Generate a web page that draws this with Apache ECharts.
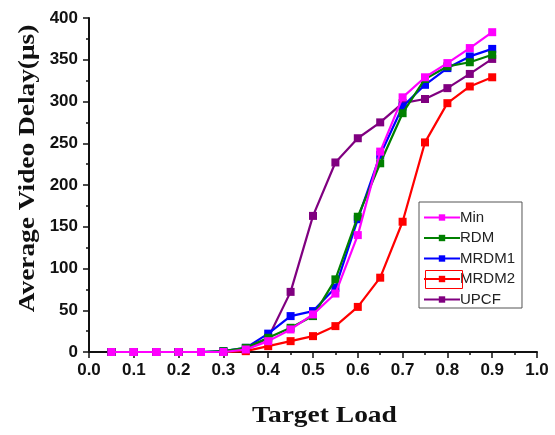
<!DOCTYPE html>
<html>
<head>
<meta charset="utf-8">
<script src="https://cdn.jsdelivr.net/npm/echarts@6/dist/echarts.min.js"></script>
<style>
html,body{margin:0;padding:0;background:#fff;}
#chart{width:555px;height:435px;}
</style>
</head>
<body>
<div id="chart"></div>
<script>
var loads = [0.05,0.1,0.15,0.2,0.25,0.3,0.35,0.4,0.45,0.5,0.55,0.6,0.65,0.7,0.75,0.8,0.85,0.9];
var minDelay   = [0,0,0,0,0,0,3,13,27,45,70,140,240,305,329,346,364,383];
var rdmDelay   = [0,0,0,0,0,1,5,17,29,43,87,162,226,286,327,342,347,356];
var mrdm1Delay = [0,0,0,0,0,1,5,22,43,49,77,159,236,294,320,340,354,363];
var mrdm2Delay = [0,0,0,0,0,0,1,7,13,19,31,54,89,156,251,298,318,329];
var upcfDelay  = [0,0,0,0,0,0,2,17,72,163,227,256,275,298,303,316,333,351];
var seriesNames = ['Min','RDM','MRDM1','MRDM2','UPCF'];
var seriesColors = ['#ff00ff','#008000','#0000ff','#ff0000','#800080'];
var seriesValues = [minDelay, rdmDelay, mrdm1Delay, mrdm2Delay, upcfDelay];
var xTitle = 'Target Load';
var yTitle = 'Average Video Delay(μs)';

function pairs(vals){ return loads.map(function(x,i){ return [x, vals[i]]; }); }

var chart = echarts.init(document.getElementById('chart'), null, {renderer:'canvas'});
var series = seriesNames.map(function(n,i){
  return {
    name:n, type:'line', data:pairs(seriesValues[i]),
    symbol:'rect', symbolSize:8, showSymbol:true,
    lineStyle:{width:2.2, color:seriesColors[i]},
    itemStyle:{color:seriesColors[i]},
    z: 10 - i
  };
});
var axisFont = {fontFamily:'Liberation Sans, Arial', fontWeight:'bold', fontSize:17, color:'#111'};
var titleFont = 'bold 24px "Liberation Serif", "Times New Roman", serif';
chart.setOption({
  animation:false,
  backgroundColor:'#fff',
  grid:{left:89, right:18, top:18, bottom:83},
  xAxis:{
    type:'value', min:0, max:1, interval:0.1,
    axisLine:{onZero:false, lineStyle:{color:'#111', width:2}},
    axisTick:{show:true, length:6, lineStyle:{color:'#111', width:1.5}},
    minorTick:{show:true, splitNumber:2, length:3, lineStyle:{color:'#111', width:1.5}},
    splitLine:{show:false},
    axisLabel:Object.assign({margin:10, formatter:function(v){return v.toFixed(1);}}, axisFont)
  },
  yAxis:{
    type:'value', min:0, max:400, interval:50,
    axisLine:{show:true, lineStyle:{color:'#111', width:2}},
    axisTick:{show:true, length:6, lineStyle:{color:'#111', width:1.5}},
    minorTick:{show:true, splitNumber:2, length:3, lineStyle:{color:'#111', width:1.5}},
    splitLine:{show:false},
    axisLabel:Object.assign({margin:11}, axisFont)
  },
  legend:{
    orient:'vertical', left:419, top:202,
    data:seriesNames,
    itemWidth:36, itemHeight:8, itemGap:5.5,
    padding:[8,7,1,4],
    borderColor:'#555', borderWidth:1,
    textStyle:{fontFamily:'Liberation Sans, Arial', fontSize:15, color:'#222', padding:[0,0,0,-5]}
  },
  graphic:[
    {type:'rect', left:423, top:268, z:100,
     shape:{width:37, height:18},
     style:{fill:'none', stroke:'#ff0000', lineWidth:1}},
    {type:'text', x:324.5, y:416, scaleX:1.145, z:100,
     style:{text:xTitle, font:titleFont, fill:'#111', textAlign:'center', textVerticalAlign:'middle'}},
    {type:'text', x:28, y:168.5, rotation:Math.PI/2, scaleX:1.14, z:100,
     style:{text:yTitle, font:titleFont, fill:'#111', textAlign:'center', textVerticalAlign:'middle'}}
  ],
  series:series
});
</script>
</body>
</html>
